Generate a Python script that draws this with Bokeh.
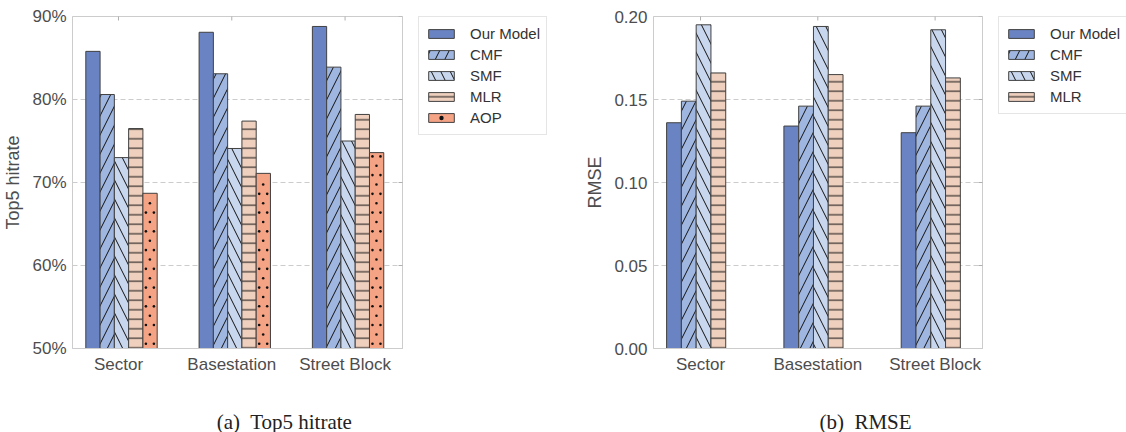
import math
from bokeh.plotting import figure
from bokeh.layouts import row, column
from bokeh.models import FixedTicker, PrintfTickFormatter, Range1d, Label
from bokeh.embed import file_html
from bokeh.resources import INLINE

categories = ["Sector", "Basestation", "Street Block"]

methods_a = ["Our Model", "CMF", "SMF", "MLR", "AOP"]
hit_our = [85.8, 88.1, 88.8]
hit_cmf = [80.6, 83.1, 83.9]
hit_smf = [73.0, 74.1, 75.0]
hit_mlr = [76.5, 77.4, 78.2]
hit_aop = [68.7, 71.1, 73.6]

methods_b = ["Our Model", "CMF", "SMF", "MLR"]
rmse_our = [0.136, 0.134, 0.130]
rmse_cmf = [0.149, 0.146, 0.146]
rmse_smf = [0.195, 0.194, 0.192]
rmse_mlr = [0.166, 0.165, 0.163]

yticks_a = [50, 60, 70, 80, 90]
yticks_b = [0.0, 0.05, 0.10, 0.15, 0.20]

captions = ["(a)\u00a0 Top5 hitrate", "(b)\u00a0 RMSE"]

colors = ["#6a83c2", "#9fb6e0", "#c9d7ee", "#efd0be", "#f4a384"]
hatches = [None, "/", "\\", "-", "dots"]
hatch_scales = [12, 19, 19, 9.5, 9.4]

SANS = "Liberation Sans"
SERIF = "Liberation Serif"
TXT = "#4d4d4d"
FRAME_H = 333
TOP = 15
FIG_H = 392
CAP_H = 40
BAR_W = 0.126


def bar_style(i):
    kw = dict(fill_color=colors[i], line_color="#404040", line_width=1)
    if hatches[i] not in (None, "dots"):
        kw.update(hatch_pattern=hatches[i], hatch_scale=hatch_scales[i],
                  hatch_color="#111111", hatch_weight=1)
    return kw


def dot_texture(xcenters, tops, base, dy):
    """Dot-hatch texture positions inside each bar (staggered rows)."""
    xs, ys = [], []
    for xc, top in zip(xcenters, tops):
        left = xc - BAR_W / 2
        r = 0
        while base + (r + 0.5) * dy < top - 0.2 * dy:
            y = base + (r + 0.5) * dy
            fr = (0.21, 0.77) if r % 2 == 0 else (0.49,)
            for f in fr:
                xs.append(left + f * BAR_W)
                ys.append(y)
            r += 1
    return xs, ys


def make_panel(series, width, bl, frame_w, xr, yr, yticks, yfmt, ylabel, group_off):
    p = figure(width=width, height=FIG_H, output_backend="svg", toolbar_location=None,
               x_range=Range1d(*xr), y_range=Range1d(*yr),
               min_border_left=bl, min_border_right=width - bl - frame_w,
               min_border_top=TOP, min_border_bottom=FIG_H - TOP - FRAME_H)
    p.outline_line_color = "#cccccc"
    p.outline_line_width = 1
    n = len(series)
    for i, vals in enumerate(series):
        xs = [k + group_off + (i - (n - 1) / 2) * BAR_W for k in range(len(categories))]
        p.vbar(x=xs, top=vals, bottom=0, width=BAR_W, **bar_style(i))
        if hatches[i] == "dots":
            dy = hatch_scales[i] * (yr[1] - yr[0]) / FRAME_H
            dx_, dy_ = dot_texture(xs, vals, yr[0], dy)
            p.scatter(x=dx_, y=dy_, marker="circle", size=2.6,
                      fill_color="#111111", line_color=None)

    # inward tick marks on the top and right frame edges
    xt = list(range(len(categories)))
    p.scatter(x=xt, y=[yr[1]] * len(xt), marker="dash", size=8, angle=math.pi / 2,
              line_color="#b0b0b0", line_width=1)
    p.scatter(x=[xr[1]] * len(yticks), y=yticks, marker="dash", size=8,
              line_color="#b0b0b0", line_width=1)

    p.xaxis.ticker = FixedTicker(ticks=xt)
    p.xaxis.major_label_overrides = {k: c for k, c in enumerate(categories)}
    p.yaxis.ticker = FixedTicker(ticks=yticks)
    p.yaxis.formatter = PrintfTickFormatter(format=yfmt)
    for ax in (p.xaxis[0], p.yaxis[0]):
        ax.axis_line_color = "#cccccc"
        ax.major_tick_in = 0
        ax.major_tick_out = 0
        ax.minor_tick_line_color = None
        ax.major_label_text_font = SANS
        ax.major_label_text_font_size = "17px"
        ax.major_label_text_color = TXT
        ax.major_label_standoff = 6
    p.yaxis.axis_label = ylabel
    p.yaxis.axis_label_text_font = SANS
    p.yaxis.axis_label_text_font_size = "18px"
    p.yaxis.axis_label_text_font_style = "normal"
    p.yaxis.axis_label_text_color = TXT
    p.yaxis.axis_label_standoff = 6

    p.xgrid.visible = False
    p.ygrid.grid_line_color = "#cccccc"
    p.ygrid.grid_line_dash = "5 3"
    p.ygrid.grid_line_width = 1
    return p


def make_legend(series, methods, width, left):
    q = figure(width=width, height=FIG_H, output_backend="svg", toolbar_location=None,
               x_range=Range1d(0, 1), y_range=Range1d(0, 1),
               x_axis_location=None, y_axis_location=None,
               min_border_left=left, min_border_right=0,
               min_border_top=TOP + 1, min_border_bottom=0)
    q.outline_line_color = None
    q.grid.visible = False
    for i, (vals, name) in enumerate(zip(series, methods)):
        xs = list(range(len(categories)))
        q.vbar(x=xs, top=vals, width=0.1, legend_label=name, visible=False,
               **bar_style(i))
        if hatches[i] == "dots":
            q.scatter(x=xs, y=vals, marker="circle", size=2.6, fill_color="#111111",
                      line_color=None, legend_label=name, visible=False)
    lg = q.legend[0]
    lg.location = "top_left"
    lg.margin = 0
    lg.padding = 6
    lg.spacing = 0
    lg.label_height = 21
    lg.glyph_height = 11
    lg.glyph_width = 32
    lg.label_standoff = 13
    lg.label_text_font = SANS
    lg.label_text_font_size = "15px"
    lg.label_text_color = "#333333"
    lg.border_line_color = "#cccccc"
    lg.border_line_width = 1
    lg.background_fill_color = "white"
    return q


series_a = [hit_our, hit_cmf, hit_smf, hit_mlr, hit_aop]
series_b = [rmse_our, rmse_cmf, rmse_smf, rmse_mlr]

pa = make_panel(series_a, 404, 72, 330, (-0.406, 2.507), (50, 90), yticks_a, "%d%%",
                "Top5 hitrate", 0.0265)
la = make_legend(series_a, methods_a, 156, 14)
pb = make_panel(series_b, 424, 93, 329, (-0.4007, 2.404), (0, 0.2), yticks_b, "%.2f",
                "RMSE", -0.037)
lb = make_legend(series_b, methods_b, 142, 14)

cap = figure(width=1126, height=CAP_H, output_backend="svg", toolbar_location=None,
             x_range=Range1d(0, 1126), y_range=Range1d(0, CAP_H),
             x_axis_location=None, y_axis_location=None,
             min_border_left=0, min_border_right=0,
             min_border_top=0, min_border_bottom=0)
cap.outline_line_color = None
cap.grid.visible = False
for cx, txt in zip([284, 865], captions):
    cap.add_layout(Label(x=cx, y=11, x_units="screen", y_units="screen", text=txt,
                         text_align="center", text_baseline="alphabetic",
                         text_font=SERIF, text_font_size="21px",
                         text_color="#222222"))

layout = column(row(pa, la, pb, lb), cap)
open("out.html", "w").write(file_html(layout, INLINE))
